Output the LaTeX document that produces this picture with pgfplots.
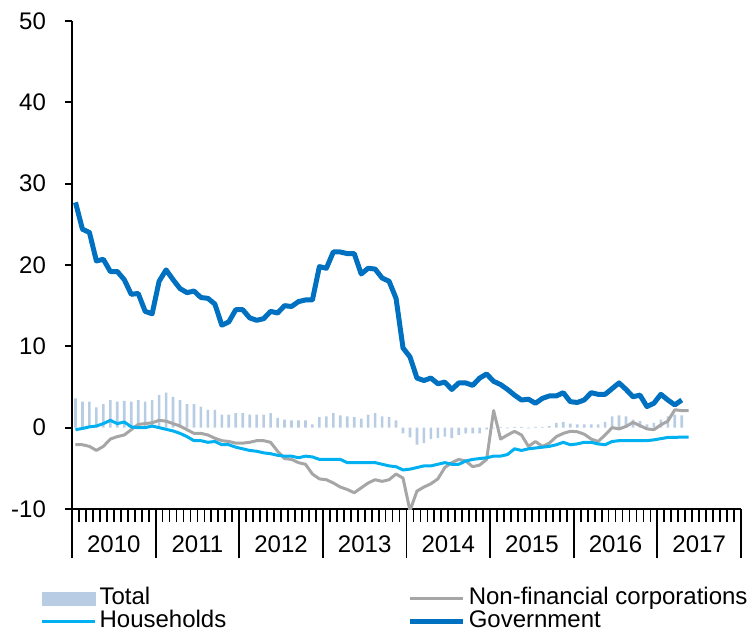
\documentclass[border=0pt]{standalone}
\usepackage{fontspec}
\setmainfont{Liberation Sans}
\usepackage{pgfplots}
\usepackage{pgfplotstable}
\pgfplotsset{compat=1.18}

\definecolor{totalc}{RGB}{184,204,228}
\definecolor{nfcc}{RGB}{166,166,166}
\definecolor{hhc}{RGB}{0,176,240}
\definecolor{govc}{RGB}{0,112,192}

% monthly data, Jan 2010 = 0.5
\pgfplotstableread{
x total nfc hh gov
0.5 3.6 -2.1 -0.25 27.7
1.5 3.2 -2.1 -0.1 24.4
2.5 3.2 -2.3 0.1 24.0
3.5 2.5 -2.8 0.2 20.5
4.5 2.9 -2.3 0.5 20.7
5.5 3.4 -1.4 0.9 19.2
6.5 3.2 -1.1 0.5 19.2
7.5 3.3 -0.9 0.7 18.2
8.5 3.2 -0.25 0.1 16.4
9.5 3.4 0.4 0.0 16.5
10.5 3.2 0.5 0.0 14.3
11.5 3.4 0.6 0.2 14.0
12.5 4.0 0.9 0.0 18.0
13.5 4.3 0.8 -0.2 19.4
14.5 3.8 0.5 -0.4 18.2
15.5 3.4 0.2 -0.7 17.1
16.5 2.9 -0.25 -1.1 16.6
17.5 2.9 -0.7 -1.6 16.8
18.5 2.6 -0.7 -1.6 16.0
19.5 2.2 -0.9 -1.8 15.9
20.5 2.2 -1.3 -1.7 15.2
21.5 1.6 -1.6 -2.1 12.6
22.5 1.6 -1.7 -2.1 13.0
23.5 1.8 -1.9 -2.4 14.5
24.5 1.8 -1.9 -2.6 14.5
25.5 1.6 -1.8 -2.8 13.5
26.5 1.6 -1.6 -2.9 13.2
27.5 1.6 -1.6 -3.1 13.4
28.5 1.8 -1.8 -3.2 14.3
29.5 1.2 -2.9 -3.4 14.1
30.5 1.0 -3.8 -3.5 15.0
31.5 0.9 -3.9 -3.5 14.9
32.5 0.9 -4.3 -3.7 15.5
33.5 0.9 -4.5 -3.5 15.7
34.5 0.4 -5.7 -3.6 15.7
35.5 1.3 -6.3 -3.9 19.8
36.5 1.4 -6.4 -3.9 19.6
37.5 1.8 -6.8 -3.9 21.6
38.5 1.5 -7.3 -3.9 21.6
39.5 1.4 -7.6 -4.3 21.4
40.5 1.3 -8.0 -4.3 21.4
41.5 1.1 -7.4 -4.3 18.9
42.5 1.6 -6.8 -4.3 19.6
43.5 1.8 -6.4 -4.3 19.5
44.5 1.4 -6.6 -4.5 18.4
45.5 1.3 -6.4 -4.7 18.0
46.5 0.9 -5.7 -4.8 15.9
47.5 -0.7 -6.2 -5.2 9.8
48.5 -1.2 -10.2 -5.1 8.7
49.5 -2.1 -7.8 -4.9 6.1
50.5 -1.9 -7.3 -4.7 5.8
51.5 -1.4 -6.9 -4.7 6.1
52.5 -1.3 -6.3 -4.5 5.4
53.5 -1.1 -4.9 -4.3 5.6
54.5 -1.3 -4.3 -4.5 4.7
55.5 -0.9 -3.9 -4.5 5.5
56.5 -0.7 -4.1 -4.1 5.5
57.5 -0.7 -4.8 -3.9 5.2
58.5 -0.7 -4.6 -3.8 6.1
59.5 -0.2 -3.9 -3.7 6.6
60.5 -0.1 2.1 -3.5 5.7
61.5 0.1 -1.4 -3.5 5.3
62.5 -0.1 -0.9 -3.3 4.7
63.5 0.1 -0.45 -2.6 4.0
64.5 0.1 -0.9 -2.8 3.4
65.5 -0.1 -2.3 -2.6 3.5
66.5 0.1 -1.7 -2.5 3.0
67.5 0.1 -2.3 -2.4 3.6
68.5 0.2 -1.9 -2.3 3.9
69.5 0.6 -1.1 -2.1 3.9
70.5 0.7 -0.7 -1.8 4.3
71.5 0.5 -0.45 -2.1 3.2
72.5 0.4 -0.5 -2.0 3.1
73.5 0.4 -0.8 -1.8 3.4
74.5 0.4 -1.4 -1.8 4.3
75.5 0.4 -1.7 -2.0 4.1
76.5 0.7 -0.9 -2.1 4.1
77.5 1.4 0.0 -1.7 4.8
78.5 1.5 -0.15 -1.6 5.5
79.5 1.4 0.15 -1.6 4.7
80.5 1.0 0.65 -1.6 3.8
81.5 0.8 0.25 -1.6 4.0
82.5 0.4 -0.15 -1.6 2.6
83.5 0.6 -0.25 -1.5 3.0
84.5 1.0 0.35 -1.35 4.1
85.5 1.4 0.8 -1.2 3.4
86.5 1.6 2.2 -1.2 2.8
87.5 1.5 2.1 -1.15 3.4
88.5 nan 2.1 -1.15 nan
}\credit

\begin{document}
\begin{tikzpicture}
\begin{axis}[
  name=ax,
  scale only axis,
  width=334.5pt, height=244pt,
  xmin=0, xmax=96, ymin=-10, ymax=50,
  axis lines*=left,
  axis line style={-, line width=0.9pt},
  tick align=outside,
  tick style={black, line width=0.9pt},
  major tick length=3.5pt,
  minor tick length=6.5pt,
  xtick={0,12,...,84},
  xticklabels={2010,2011,2012,2013,2014,2015,2016,2017},
  xticklabel style={xshift=20.9pt, yshift=-6.3pt},
  minor xtick={0,1,...,96},
  extra x ticks={0,12,...,96},
  extra x tick labels={},
  extra x tick style={major tick length=24.5pt, xticklabel style={xshift=-20.9pt}},
  ytick={-10,0,...,50},
  yticklabel style={xshift=-6pt},
  tick label style={font=\fontsize{12}{14}\selectfont},
  /pgf/number format/assume math mode=true,
  legend columns=2,
  legend cell align=left,
  legend style={at={(0,0)}, anchor=north west, xshift=-16pt, yshift=-39pt,
    draw=none, fill=none, inner sep=0pt,
    font=\fontsize{12}{14}\selectfont,
    nodes={inner xsep=1.6pt, inner ysep=0pt, text height=8.7pt, text depth=2.8pt},
    /tikz/column sep=0pt,
    /tikz/every even column/.append style={column sep=89pt}},
]
\addlegendimage{legend image code/.code={\fill[totalc] (0pt,-3.15pt) rectangle (26.5pt,3.15pt);}}
\addlegendentry{Total}
\addlegendimage{legend image code/.code={\draw[nfcc, line width=1.5pt] (0pt,0pt) -- (26.5pt,0pt);}}
\addlegendentry{Non-financial corporations}
\addlegendimage{legend image code/.code={\draw[hhc, line width=1.5pt] (0pt,0pt) -- (26.5pt,0pt);}}
\addlegendentry{Households}
\addlegendimage{legend image code/.code={\draw[govc, line width=2.5pt] (0pt,0pt) -- (26.5pt,0pt);}}
\addlegendentry{Government}

\addplot[forget plot, ybar, bar shift=0pt, bar width=0.38, fill=totalc, draw=none]
  table[x=x, y=total] {\credit};
\addplot[forget plot, nfcc, line width=1.5pt, line join=round, mark=none]
  table[x=x, y=nfc] {\credit};
\addplot[forget plot, hhc, line width=1.5pt, line join=round, mark=none]
  table[x=x, y=hh] {\credit};
\addplot[forget plot, govc, line width=2.5pt, line join=round, mark=none]
  table[x=x, y=gov] {\credit};
\end{axis}
\pgfresetboundingbox
\path ([xshift=-36pt,yshift=-61.5pt]ax.south west) rectangle ([xshift=4pt,yshift=10.5pt]ax.north east);
\end{tikzpicture}
\end{document}
